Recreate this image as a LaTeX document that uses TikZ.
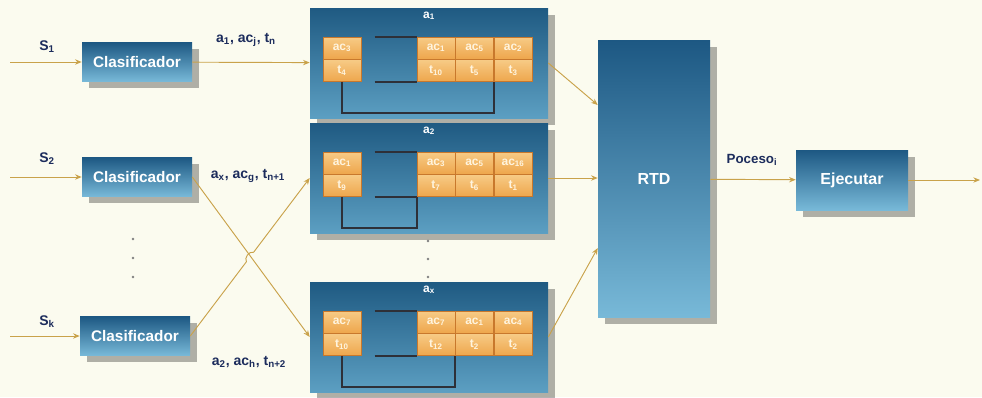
\documentclass[tikz,border=0pt]{standalone}
\usepackage{fontspec}
\setmainfont{Liberation Sans}
\usepackage{xcolor}
\usepackage{tikz}
\usetikzlibrary{positioning, arrows.meta, shadows, calc}

\definecolor{paper}{HTML}{FBFBEF}
\definecolor{boxtop}{HTML}{1D5883}
\definecolor{boxbot}{HTML}{78B9D8}
\definecolor{queuetop}{HTML}{1F5A82}
\definecolor{queuebot}{HTML}{5C9FC2}
\definecolor{celltop}{HTML}{F7CB86}
\definecolor{cellbot}{HTML}{EEA64C}
\definecolor{cellline}{HTML}{C8782C}
\definecolor{celltext}{HTML}{FFF4DE}
\definecolor{wire}{HTML}{C9A24A}
\definecolor{raildark}{HTML}{2E3038}
\definecolor{labelblue}{HTML}{1C2C5C}

\begin{document}
\begin{tikzpicture}[
    x=0.75pt, y=-0.75pt,
    >={Stealth[length=5pt, width=4pt]},
    blockbox/.style={rectangle, top color=boxtop, bottom color=boxbot, text=white, font=\bfseries, align=center, inner sep=0pt,
        drop shadow={shadow xshift=5pt, shadow yshift=-5pt, opacity=0.3, fill=black}},
    clasbox/.style={blockbox, font=\fontsize{11.5}{13}\selectfont\bfseries, minimum width=82.5pt, minimum height=29.25pt},
    queue/.style={rectangle, top color=queuetop, bottom color=queuebot, minimum width=178.5pt, minimum height=82.5pt, inner sep=0pt,
        drop shadow={shadow xshift=5pt, shadow yshift=-5pt, opacity=0.3, fill=black}},
    qtitle/.style={text=white, font=\fontsize{9}{10}\selectfont\bfseries, inner sep=1pt},
    cell/.style={rectangle, draw=cellline, top color=celltop, bottom color=cellbot, text=celltext, font=\small\bfseries,
        minimum width=28.5pt, minimum height=16.5pt, inner sep=0pt},
    flow/.style={->, draw=wire, line width=0.7pt},
    rail/.style={draw=raildark, line width=1.2pt},
    lbl/.style={text=labelblue, font=\fontsize{10.5}{12}\selectfont\bfseries, inner sep=1pt}
]

\useasboundingbox (0,0) rectangle (982,397);
\fill[paper] (0,0) rectangle (982,397);

% Clasificadores
\node[clasbox] (clas1) at (137,62) {Clasificador};
\node[clasbox] (clas2) at (137,177) {Clasificador};
\node[clasbox] (clas3) at (135,336) {Clasificador};

% Entradas
\coordinate (in1) at (10,62);
\coordinate (in2) at (10,177);
\coordinate (in3) at (10,336);
\node[lbl] (s1) at (47,47) {S\textsubscript{1}};
\node[lbl] (s2) at (47,159) {S\textsubscript{2}};
\node[lbl] (sk) at (47,322) {S\textsubscript{k}};
\draw[flow] (in1) -- (clas1);
\draw[flow] (in2) -- (clas2);
\draw[flow] (in3) -- (clas3);

% puntos
\fill[gray] (133,239) circle (1pt) (133,258) circle (1pt) (133,277) circle (1pt);
\fill[gray] (428,241) circle (1pt) (428,259) circle (1pt) (428,277) circle (1pt);

% Cola a1
\node[queue] (q1) at (429,63) {};
\node[qtitle, below=2pt of q1.north] (q1name) {a\textsubscript{1}};
\node[cell] (q1a0) at (342,48) {ac\textsubscript{3}};
\node[cell, below=0pt of q1a0] (q1t0) {t\textsubscript{4}};
\node[cell] (q1a1) at (436,48) {ac\textsubscript{1}};
\node[cell, right=0pt of q1a1] (q1a2) {ac\textsubscript{5}};
\node[cell, right=0pt of q1a2] (q1a3) {ac\textsubscript{2}};
\node[cell, below=0pt of q1a1] (q1t1) {t\textsubscript{10}};
\node[cell, below=0pt of q1a2] (q1t2) {t\textsubscript{5}};
\node[cell, below=0pt of q1a3] (q1t3) {t\textsubscript{3}};
\draw[rail] ([xshift=-31.5pt]q1a1.north west) -- (q1a1.north west);
\draw[rail] ([xshift=-31.5pt]q1t1.south west) -- (q1t1.south west);
\draw[rail] (q1t0.south) -- ++(0,31) -| (q1t3.south west);

% Cola a2
\node[queue] (q2) at (429,178) {};
\node[qtitle, below=2pt of q2.north] (q2name) {a\textsubscript{2}};
\node[cell] (q2a0) at (342,163) {ac\textsubscript{1}};
\node[cell, below=0pt of q2a0] (q2t0) {t\textsubscript{9}};
\node[cell] (q2a1) at (436,163) {ac\textsubscript{3}};
\node[cell, right=0pt of q2a1] (q2a2) {ac\textsubscript{5}};
\node[cell, right=0pt of q2a2] (q2a3) {ac\textsubscript{16}};
\node[cell, below=0pt of q2a1] (q2t1) {t\textsubscript{7}};
\node[cell, below=0pt of q2a2] (q2t2) {t\textsubscript{6}};
\node[cell, below=0pt of q2a3] (q2t3) {t\textsubscript{1}};
\draw[rail] ([xshift=-31.5pt]q2a1.north west) -- (q2a1.north west);
\draw[rail] ([xshift=-31.5pt]q2t1.south west) -- (q2t1.south west);
\draw[rail] (q2t0.south) -- ++(0,31) -| (q2t1.south west);

% Cola ax
\node[queue] (q3) at (429,337) {};
\node[qtitle, below=2pt of q3.north] (q3name) {a\textsubscript{x}};
\node[cell] (q3a0) at (342,322) {ac\textsubscript{7}};
\node[cell, below=0pt of q3a0] (q3t0) {t\textsubscript{10}};
\node[cell] (q3a1) at (436,322) {ac\textsubscript{7}};
\node[cell, right=0pt of q3a1] (q3a2) {ac\textsubscript{1}};
\node[cell, right=0pt of q3a2] (q3a3) {ac\textsubscript{4}};
\node[cell, below=0pt of q3a1] (q3t1) {t\textsubscript{12}};
\node[cell, below=0pt of q3a2] (q3t2) {t\textsubscript{2}};
\node[cell, below=0pt of q3a3] (q3t3) {t\textsubscript{2}};
\draw[rail] ([xshift=-31.5pt]q3a1.north west) -- (q3a1.north west);
\draw[rail] ([xshift=-31.5pt]q3t1.south west) -- (q3t1.south west);
\draw[rail] (q3t0.south) -- ++(0,31) -| (q3t2.south west);

% RTD y Ejecutar
\node[blockbox, font=\large\bfseries, minimum width=84pt, minimum height=208pt] (rtd) at (654,179) {RTD};
\node[blockbox, font=\large\bfseries, minimum width=84pt, minimum height=45pt] (ejec) at (852,180) {Ejecutar};
\coordinate (out) at (980,180);

% Clasificador -> colas
\draw[flow] (clas1) -- (q1);
\node[lbl] (lab1) at (246,40) {a\textsubscript{1}, ac\textsubscript{j}, t\textsubscript{n}};
\draw[flow] (clas2.east) -- (q3.west);
\node[lbl] (lab2) at (248,176) {a\textsubscript{x}, ac\textsubscript{g}, t\textsubscript{n+1}};
\draw[flow] (clas3.east) -- ($(clas3.east)!0.47!(q2.west)$) to[bend left=70] ($(clas3.east)!0.53!(q2.west)$) -- (q2.west);
\node[lbl] (lab3) at (249,362) {a\textsubscript{2}, ac\textsubscript{h}, t\textsubscript{n+2}};

% colas -> RTD
\draw[flow] (q1.east) -- ([yshift=55.5pt]rtd.west);
\draw[flow] (q2.east) -- (q2.east -| rtd.west);
\draw[flow] (q3.east) -- ([yshift=-51.75pt]rtd.west);

% RTD -> Ejecutar -> salida
\draw[flow] (rtd) -- (ejec);
\node[lbl, font=\fontsize{10}{12}\selectfont\bfseries] (proc) at (752,160) {Poceso\textsubscript{i}};
\draw[flow] (ejec) -- (out);

\end{tikzpicture}
\end{document}
